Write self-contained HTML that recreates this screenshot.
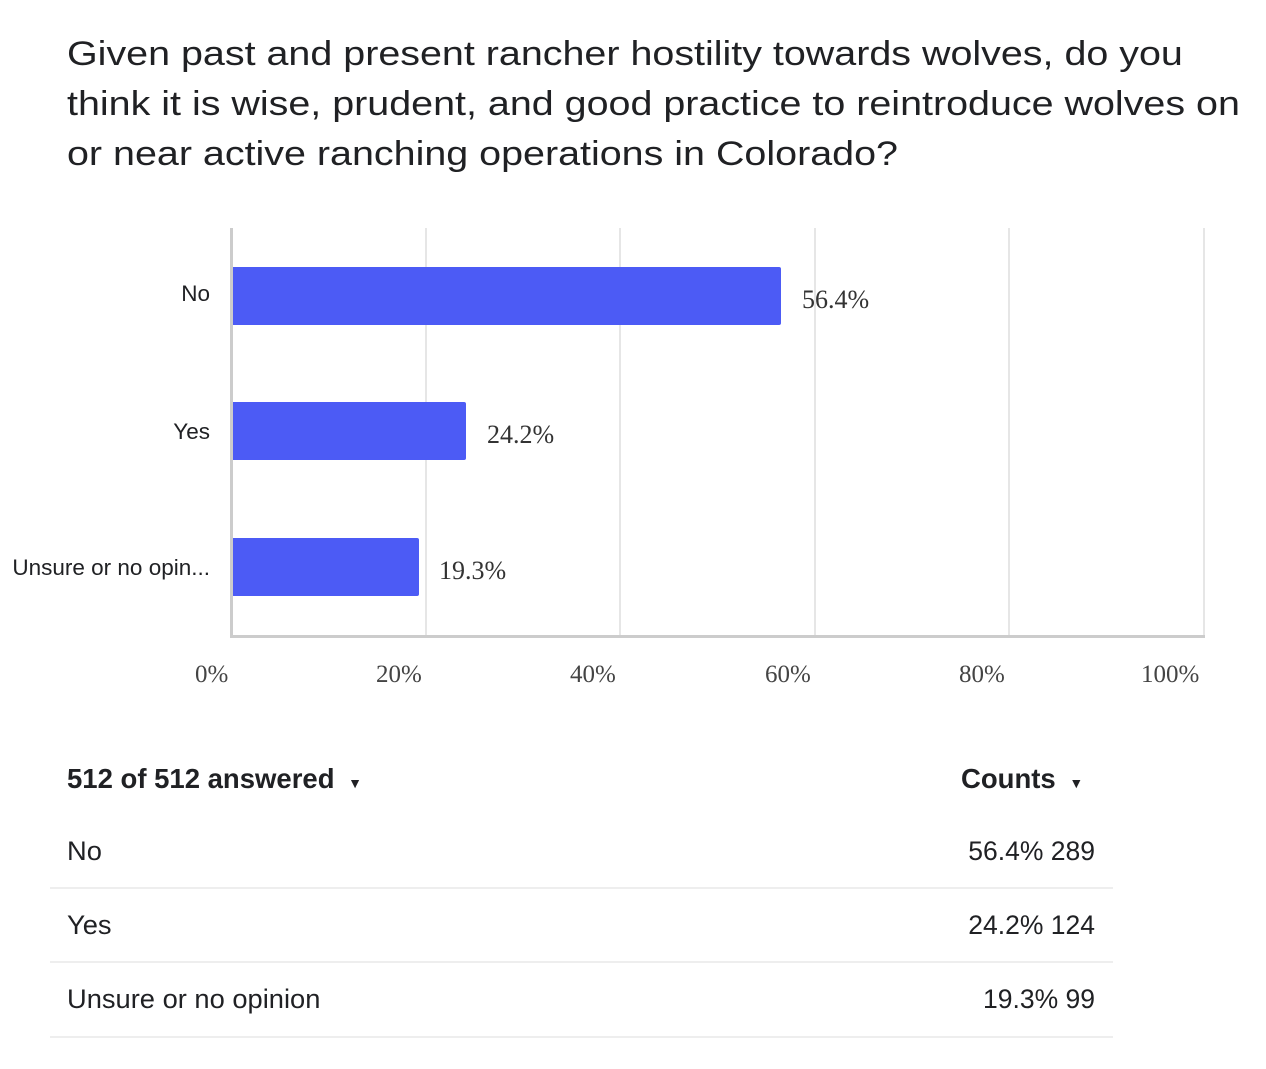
<!DOCTYPE html>
<html><head><style>
body{margin:0;width:1266px;height:1069px;background:#fff;position:relative;overflow:hidden;font-family:"Liberation Sans",sans-serif;color:#202124}
.a{position:absolute;white-space:nowrap}
.t{left:67px;font-size:34px;line-height:50px;top:29px;color:#202124;transform:scaleX(1.16);transform-origin:left top}
.g{position:absolute;top:228px;height:408px;width:2px;background:#e6e6e6}
.bar{position:absolute;left:233px;height:58px;background:#4c5bf5;border-radius:0 2px 2px 0}
.v{font-family:"Liberation Serif",serif;font-size:26px;color:#333}
.cat{font-size:22.5px;text-align:right;right:1056px}
.tk{font-family:"Liberation Serif",serif;font-size:25px;color:#444;top:661px}
.r{font-size:26.5px;transform-origin:left top}
.sep{position:absolute;left:50px;width:1063px;height:2px;background:#eee}
</style></head><body>
<div class="a t">Given past and present rancher hostility towards wolves, do you<br>think it is wise, prudent, and good practice to reintroduce wolves on<br>or near active ranching operations in Colorado?</div>
<div class="g" style="left:425px"></div>
<div class="g" style="left:619px"></div>
<div class="g" style="left:814px"></div>
<div class="g" style="left:1008px"></div>
<div class="g" style="left:1203px"></div>
<div style="position:absolute;left:230px;top:228px;width:3px;height:410px;background:#ccc"></div>
<div style="position:absolute;left:230px;top:635px;width:975px;height:3px;background:#ccc"></div>
<div class="bar" style="top:267px;width:548px"></div>
<div class="bar" style="top:402px;width:233px"></div>
<div class="bar" style="top:538px;width:186px"></div>
<div class="a v" style="left:802px;top:285px">56.4%</div>
<div class="a v" style="left:487px;top:420px">24.2%</div>
<div class="a v" style="left:439px;top:556px">19.3%</div>
<div class="a cat" style="top:281px">No</div>
<div class="a cat" style="top:419px">Yes</div>
<div class="a cat" style="top:555px">Unsure or no opin...</div>
<div class="a tk" style="left:195px">0%</div>
<div class="a tk" style="left:376px">20%</div>
<div class="a tk" style="left:570px">40%</div>
<div class="a tk" style="left:765px">60%</div>
<div class="a tk" style="left:959px">80%</div>
<div class="a tk" style="left:1141px">100%</div>
<div class="a r" style="left:67px;top:763px;font-weight:bold;font-size:27.5px">512 of 512 answered <span style="font-size:14px;margin-left:6px">▼</span></div>
<div class="a r" style="left:961px;top:763px;font-weight:bold;font-size:27.5px">Counts <span style="font-size:14px;margin-left:6px">▼</span></div>
<div class="a r" style="left:67px;top:836px;transform:scaleX(1.03)">No</div>
<div class="a r" style="right:171px;top:836px">56.4% 289</div>
<div class="sep" style="top:887px"></div>
<div class="a r" style="left:67px;top:910px;transform:scaleX(1.03)">Yes</div>
<div class="a r" style="right:171px;top:910px">24.2% 124</div>
<div class="sep" style="top:961px"></div>
<div class="a r" style="left:67px;top:984px;transform:scaleX(1.03)">Unsure or no opinion</div>
<div class="a r" style="right:171px;top:984px">19.3% 99</div>
<div class="sep" style="top:1036px"></div>
</body></html>
